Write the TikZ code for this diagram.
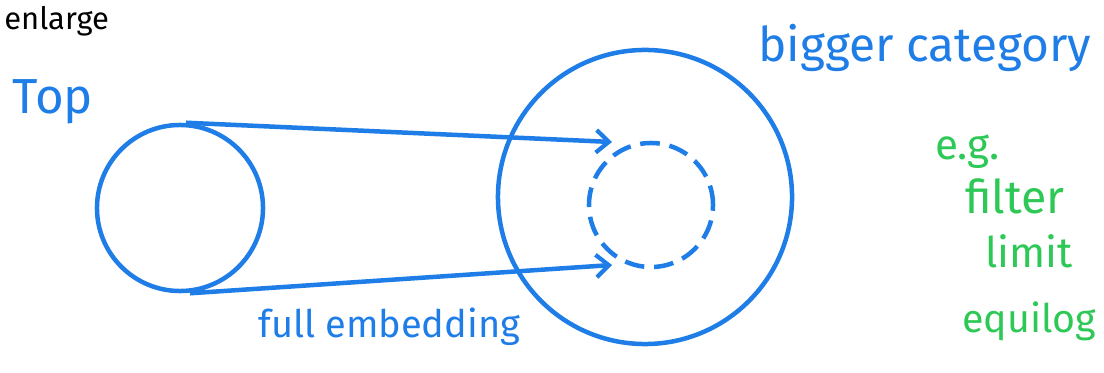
\documentclass[tikz,border=0pt]{standalone}
\usepackage{fontspec}
\setmainfont{Fira Sans}
\usetikzlibrary{arrows.meta}
\definecolor{mblue}{RGB}{30,125,230}
\definecolor{mgreen}{RGB}{45,200,85}
\tikzset{
  pen/.style={draw=mblue, line width=3.2pt},
  catcircle/.style={pen, circle, inner sep=0pt},
  embed/.style={pen, -{Straight Barb[length=9pt, width=16pt, line width=3pt]}},
  bluetext/.style={text=mblue, inner sep=0pt, anchor=base west},
  greentext/.style={text=mgreen, inner sep=0pt, anchor=base west},
}
\begin{document}
\begin{tikzpicture}[x=0.025cm, y=-0.025cm]
\useasboundingbox (0,0) rectangle (1104,373);
\fill[white] (0,0) rectangle (1104,373);
% title
\node[anchor=base west, inner sep=0pt, font=\fontsize{22}{24}\selectfont] (title) at (4,30) {enlarge};
% circles
\node[catcircle, minimum size=4.15cm] (top) at (180,208) {};
\node[catcircle, minimum size=7.35cm] (big) at (645,197) {};
\node[pen, dash pattern=on 14pt off 7pt, circle, inner sep=0pt, minimum size=3.1cm] (small) at (651,205) {};
% connectors
\coordinate (a1) at (612,142);
\coordinate (a2) at (612,265);
\draw[embed] ([xshift=0.15cm]top.north) -- (a1);
\draw[embed] ([xshift=0.25cm]top.south) -- (a2);
% labels
\node[bluetext, font=\fontsize{35}{37}\selectfont] (toplab) at (12,114) {Top};
\node[bluetext, font=\fontsize{34}{36}\selectfont] (biglab) at (758,62) {bigger category};
\node[bluetext, font=\fontsize{27}{29}\selectfont] (emb) at (258,337) {full embedding};
\node[greentext, font=\fontsize{30}{32}\selectfont] (eg) at (935,160) {e.g.};
\node[greentext, font=\fontsize{33}{35}\selectfont] (f1) at (965,214) {filter};
\node[greentext, font=\fontsize{30}{32}\selectfont] (f2) at (985,268) {limit};
\node[greentext, font=\fontsize{28}{30}\selectfont] (f3) at (962,332) {equilog};
\end{tikzpicture}
\end{document}
